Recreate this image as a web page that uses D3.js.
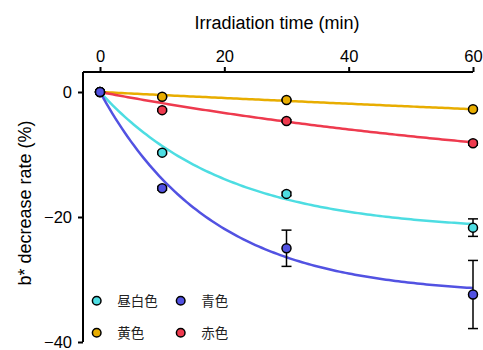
<!DOCTYPE html>
<html><head><meta charset="utf-8">
<script src="https://cdn.jsdelivr.net/npm/d3@7"></script>
<style>body{margin:0;background:#fff}svg{display:block}</style>
</head><body>
<svg id="c" width="483" height="350"></svg>
<script>
const times = [0, 10, 30, 60];
const seriesNames = ["昼白色", "黄色", "赤色", "青色"];
const seriesColors = ["#4ddde2", "#e8ad00", "#ee3a4e", "#5252e2"];
const cyanValues = [0, -9.7, -16.3, -21.7];
const yellowValues = [0, -0.75, -1.28, -2.77];
const redValues = [0, -2.9, -4.64, -8.2];
const blueValues = [0, -15.4, -25.0, -32.4];
const cyanErr = [0, 0.2, 0.3, 1.4];
const yellowErr = [0, 0.1, 0.1, 0.2];
const redErr = [0, 0.2, 0.2, 0.3];
const blueErr = [0, 0.3, 2.9, 5.45];
// fitted model y = -A(1 - exp(-k t))
const fitA = [22.3, 20.5, 15.6, 32.5];
const fitK = [0.049, 0.0024, 0.0121, 0.056];
const xTicks = [0, 20, 40, 60];
const yTicks = [0, -20, -40];

const values = [cyanValues, yellowValues, redValues, blueValues];
const errs = [cyanErr, yellowErr, redErr, blueErr];

const svg = d3.select("#c");
const x = d3.scaleLinear().domain([0, 60]).range([100, 473]);
const y = d3.scaleLinear().domain([0, -40]).range([92, 342]);
const font = "'Liberation Sans', Arial, sans-serif";

// axes
const xAxis = svg.append("g").attr("transform", "translate(0,72)")
  .call(d3.axisTop(x).tickValues(xTicks).tickSize(5).tickPadding(5).tickSizeOuter(0));
xAxis.select(".domain").attr("d", `M83,0H${x(60)}`);
const yAxis = svg.append("g").attr("transform", "translate(83,0)")
  .call(d3.axisLeft(y).tickValues(yTicks).tickSize(5).tickPadding(6).tickSizeOuter(0));
yAxis.select(".domain").attr("d", `M0,72V${y(-40)}`);
svg.selectAll(".domain").attr("stroke", "#000").attr("stroke-width", 2);
svg.selectAll(".tick line").attr("stroke", "#000").attr("stroke-width", 2);
svg.selectAll(".tick text").attr("font-family", font).attr("font-size", 16.5).attr("fill", "#000");

svg.append("text").attr("x", 277).attr("y", 29).attr("text-anchor", "middle")
  .attr("font-family", font).attr("font-size", 18).text("Irradiation time (min)");
svg.append("text").attr("transform", "translate(31,203) rotate(-90)").attr("text-anchor", "middle")
  .attr("font-family", font).attr("font-size", 18).text("b* decrease rate (%)");

// fitted curves
const tt = d3.range(0, 60.01, 0.5);
const line = d3.line().x(d => x(d[0])).y(d => y(d[1]));
fitA.forEach((A, i) => {
  svg.append("path").attr("d", line(tt.map(t => [t, -A * (1 - Math.exp(-fitK[i] * t))])))
    .attr("fill", "none").attr("stroke", seriesColors[i]).attr("stroke-width", 2.5);
});

// error bars
values.forEach((vals, i) => {
  vals.forEach((v, j) => {
    const e = errs[i][j];
    if (e <= 0) return;
    const g = svg.append("g").attr("stroke", "#000").attr("stroke-width", 1.5);
    g.append("line").attr("x1", x(times[j])).attr("x2", x(times[j])).attr("y1", y(v - e)).attr("y2", y(v + e));
    [v - e, v + e].forEach(w => g.append("line").attr("x1", x(times[j]) - 5).attr("x2", x(times[j]) + 5)
      .attr("y1", y(w)).attr("y2", y(w)));
  });
});

// markers
values.forEach((vals, i) => {
  svg.append("g").selectAll("circle").data(vals).join("circle")
    .attr("cx", (d, j) => x(times[j])).attr("cy", d => y(d)).attr("r", 4.5)
    .attr("fill", seriesColors[i]).attr("stroke", "#000").attr("stroke-width", 1.5);
});

// legend
const legPos = [[96.7, 300.7], [96.7, 332.7], [180.7, 332.7], [180.7, 300.7]];
seriesNames.forEach((n, i) => {
  svg.append("circle").attr("cx", legPos[i][0]).attr("cy", legPos[i][1]).attr("r", 4.3)
    .attr("fill", seriesColors[i]).attr("stroke", "#000").attr("stroke-width", 1.5);
  svg.append("text").attr("x", legPos[i][0] + 20.5).attr("y", legPos[i][1] + 5)
    .attr("font-family", "'Noto Sans CJK JP', sans-serif").attr("font-size", 13.5).attr("fill", "#222").text(n);
});
</script>
</body></html>
